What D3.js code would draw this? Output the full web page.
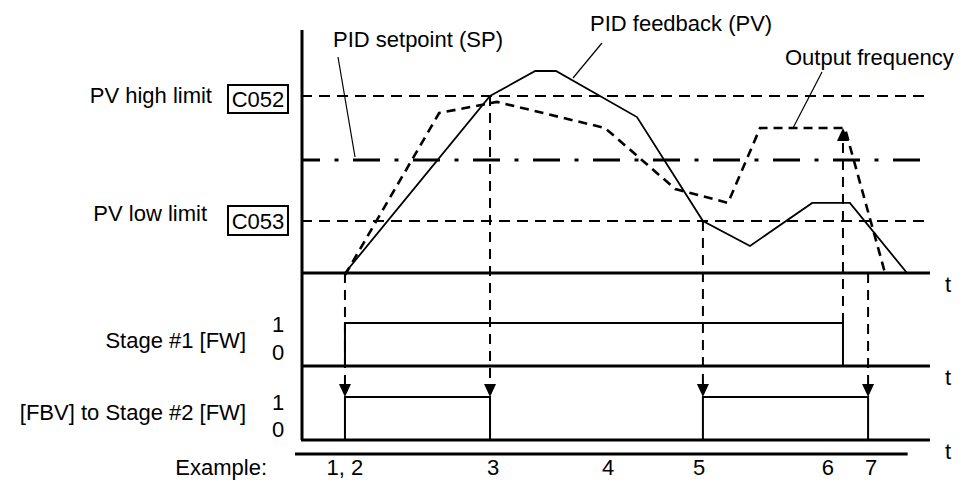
<!DOCTYPE html>
<html><head><meta charset="utf-8">
<script src="https://cdn.jsdelivr.net/npm/d3@7"></script>
<style>
html,body{margin:0;padding:0;background:#fff;}
text{font-family:"Liberation Sans",Arial,Helvetica,sans-serif;fill:#000;}
</style></head>
<body>
<svg id="chart" width="973" height="483"></svg>
<script>
// ---- data (time in % of the time axis, levels in % of the top panel) ----
const pvTimes   = [7.0, 30.1, 37.3, 40.6, 53.5, 64.0, 71.5, 81.4, 87.4, 96.5];
const pvValues  = [0, 87.6, 100, 100, 77.2, 25.7, 13.4, 34.7, 34.7, 0];
const outTimes  = [7.0, 22.0, 31.2, 48.4, 59.6, 68.0, 73.1, 86.6, 93.0];
const outValues = [-1, 79.2, 84.7, 71.8, 41.6, 34.7, 71.8, 71.8, 0];
const setpoint  = 55.9;
const highLimit = 87.6;
const lowLimit  = 25.7;
const stage1On  = [[7.0, 86.3]];
const stage2On  = [[7.0, 30.1], [64.0, 90.3]];
const exampleLabels = ["1, 2", "3", "4", "5", "6", "7"];
const exampleTimes  = [7.0, 30.6, 48.9, 63.4, 83.9, 90.8];
const levelLabels = ["1", "0"];

const svg = d3.select("#chart");
const x = d3.scaleLinear().domain([0, 100]).range([301, 929]);
const y = d3.scaleLinear().domain([0, 100]).range([273, 71]);
const y1 = d3.scaleLinear().domain([0, 1]).range([366, 323]);
const y2 = d3.scaleLinear().domain([0, 1]).range([440, 397]);
const line = d3.line().x(d => x(d[0])).y(d => d[1]);

// vertical axis
svg.append("line").attr("x1", x(0)+1).attr("x2", x(0)+1).attr("y1", 30).attr("y2", y2(0))
  .attr("stroke", "#000").attr("stroke-width", 3);

// baselines
[y(0), y1(0), y2(0)].forEach(yy => {
  svg.append("line").attr("x1", x(0)).attr("x2", x(100)+1).attr("y1", yy).attr("y2", yy)
    .attr("stroke", "#000").attr("stroke-width", 3);
  svg.append("text").attr("x", 945).attr("y", yy + 19).attr("font-size", 22).text("t");
});
// example underline
svg.append("line").attr("x1", 295).attr("x2", x(96.6)).attr("y1", 454).attr("y2", 454)
  .attr("stroke", "#000").attr("stroke-width", 3);

// limit lines
[highLimit, lowLimit].forEach(v => {
  svg.append("line").attr("x1", x(0)).attr("x2", x(100)).attr("y1", y(v)).attr("y2", y(v))
    .attr("stroke", "#000").attr("stroke-width", 2).attr("stroke-dasharray", "11,7");
});
// setpoint dash-dot
svg.append("line").attr("x1", x(0)).attr("x2", x(100)).attr("y1", y(setpoint)).attr("y2", y(setpoint))
  .attr("stroke", "#000").attr("stroke-width", 3).attr("stroke-dasharray", "27,14.5,4,14.5")
  .attr("stroke-dashoffset", 8);

// vertical dashed event lines
const evLines = [
  [7.0, y(0), 385], [30.1, y(highLimit), 385], [64.0, y(lowLimit), 385], [90.3, y(0), 385],
  [86.3, y1(1), 141]
];
evLines.forEach(e => {
  svg.append("line").attr("x1", x(e[0])).attr("x2", x(e[0])).attr("y1", e[1]).attr("y2", e[2])
    .attr("stroke", "#000").attr("stroke-width", 2).attr("stroke-dasharray", "10,7");
});

// PV solid line
svg.append("path").datum(pvTimes.map((t, i) => [t, y(pvValues[i])]))
  .attr("d", line).attr("fill", "none").attr("stroke", "#000").attr("stroke-width", 1.8)
  .attr("stroke-linejoin", "miter");
// output frequency dashed
svg.append("path").datum(outTimes.map((t, i) => [t, y(outValues[i])]))
  .attr("d", line).attr("fill", "none").attr("stroke", "#000").attr("stroke-width", 2.6)
  .attr("stroke-dasharray", "9,6");

// stage signals
function pulses(on, ys) {
  on.forEach(p => {
    svg.append("path").datum([[p[0], ys(0)], [p[0], ys(1)], [p[1], ys(1)], [p[1], ys(0)]])
      .attr("d", line).attr("fill", "none").attr("stroke", "#000").attr("stroke-width", 2);
  });
}
pulses(stage1On, y1);
pulses(stage2On, y2);

// arrows
[7.0, 30.1, 64.0, 90.3].forEach(t => {
  const cx = x(t), ty = y2(1);
  svg.append("path").attr("d", `M${cx-6},${ty-13}L${cx+6},${ty-13}L${cx},${ty}Z`).attr("fill", "#000");
});
{
  const cx = x(86.3), ty = 128;
  svg.append("path").attr("d", `M${cx-6},${ty+13}L${cx+6},${ty+13}L${cx},${ty}Z`).attr("fill", "#000");
}

// leaders
const leaders = [[338, 57, 355, 157], [602, 43, 573, 78], [822, 72, 793, 128]];
leaders.forEach(l => svg.append("line").attr("x1", l[0]).attr("y1", l[1]).attr("x2", l[2]).attr("y2", l[3])
  .attr("stroke", "#000").attr("stroke-width", 1.2));

// texts
const fs = 22;
svg.append("text").attr("x", 333).attr("y", 47).attr("font-size", fs).text("PID setpoint (SP)");
svg.append("text").attr("x", 590).attr("y", 31).attr("font-size", fs).text("PID feedback (PV)");
svg.append("text").attr("x", 785).attr("y", 65).attr("font-size", fs).text("Output frequency");
svg.append("text").attr("x", 212).attr("y", 103).attr("font-size", fs).attr("text-anchor", "end").text("PV high limit");
svg.append("text").attr("x", 207).attr("y", 221).attr("font-size", fs).attr("text-anchor", "end").text("PV low limit");
[["C052", 85, 113], ["C053", 206, 235]].forEach(b => {
  svg.append("rect").attr("x", 228).attr("y", b[1]).attr("width", 60).attr("height", b[2]-b[1])
    .attr("fill", "none").attr("stroke", "#000").attr("stroke-width", 2);
  svg.append("text").attr("x", 258).attr("y", b[2]-6).attr("font-size", fs).attr("text-anchor", "middle").text(b[0]);
});
svg.append("text").attr("x", 246).attr("y", 348).attr("font-size", fs).attr("text-anchor", "end").text("Stage #1 [FW]");
svg.append("text").attr("x", 246).attr("y", 420).attr("font-size", fs).attr("text-anchor", "end").text("[FBV] to Stage #2 [FW]");
[[332, 360], [410, 437]].forEach(p => {
  levelLabels.forEach((s, i) => svg.append("text").attr("x", 278).attr("y", p[i]).attr("font-size", fs)
    .attr("text-anchor", "middle").text(s));
});
svg.append("text").attr("x", 267).attr("y", 475).attr("font-size", fs).attr("text-anchor", "end").text("Example:");
exampleLabels.forEach((s, i) => svg.append("text").attr("x", x(exampleTimes[i])).attr("y", 475)
  .attr("font-size", fs).attr("text-anchor", "middle").text(s));
</script>
</body></html>
